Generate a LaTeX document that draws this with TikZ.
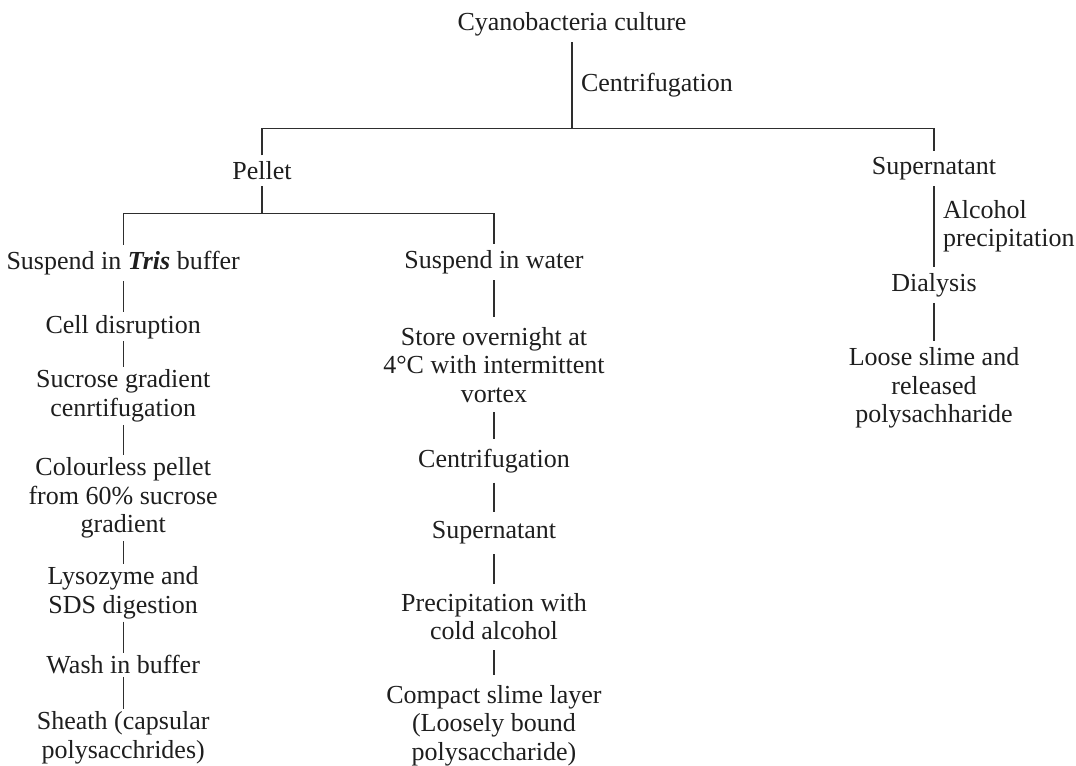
\documentclass[tikz,border=0pt]{standalone}
\usepackage{fontspec}
\setmainfont{Liberation Serif}
\usepackage{xcolor}
\usepackage{tikz}
\definecolor{inkDark}{HTML}{1e1e1e}
\definecolor{lineGrey}{HTML}{2e2e2e}

\begin{document}
\begin{tikzpicture}[
  font=\fontsize{18.5}{20.3}\selectfont,
  every node/.style={align=center},
  stage/.style={inner sep=0.15cm, text=inkDark},
  capstage/.style={stage, inner ysep=0.06cm},
  loosestage/.style={stage, inner ysep=0.24cm},
  note/.style={inner sep=0.1cm, anchor=west, align=left, text=inkDark},
  link/.style={line width=0.9pt, draw=lineGrey}
]
\useasboundingbox (0,0) rectangle (26.9,-19.15);

% first split
\node[stage] (culture) at (14.30,-0.60) {Cyanobacteria culture};
\coordinate (split) at (14.30,-3.22);
\node[note] (cfglabel) at (14.42,-2.12) {Centrifugation};
\node[stage] (pellet) at (6.55,-4.27) {Pellet};
\node[stage] (supnat) at (23.35,-4.22) {Supernatant};

\draw[link] (culture.south) -- (split);
\draw[link] (pellet.north) |- (split) -| (supnat.north);

% pellet branch
\coordinate (split2) at (6.55,-5.33);
\node[stage] (tris)  at (3.08,-6.58) {Suspend in \textbf{\textit{Tris}} buffer};
\node[stage] (water) at (12.35,-6.56) {Suspend in water};

\draw[link] (pellet.south) -- (split2);
\draw[link] (tris.north) |- (split2) -| (water.north);

% capsular route
\node[capstage] (disrupt) at (3.08,-8.17)  {Cell disruption};
\node[capstage] (sucrose) at (3.08,-9.90)  {Sucrose gradient\\cenrtifugation};
\node[capstage] (colless) at (3.08,-12.45) {Colourless pellet\\from 60\% sucrose\\gradient};
\node[capstage] (lyso)    at (3.08,-14.82) {Lysozyme and\\SDS digestion};
\node[capstage] (wash)    at (3.08,-16.62) {Wash in buffer};
\node[capstage] (sheath)  at (3.08,-18.45) {Sheath (capsular\\polysacchrides)};

\draw[link] (tris.south)    -- (disrupt.north);
\draw[link] (disrupt.south) -- (sucrose.north);
\draw[link] (sucrose.south) -- (colless.north);
\draw[link] (colless.south) -- (lyso.north);
\draw[link] (lyso.south)    -- (wash.north);
\draw[link] (wash.south)    -- (sheath.north);

% loosely bound route
\node[loosestage] (store)   at (12.35,-9.12)  {Store overnight at\\4°C with intermittent\\vortex};
\node[loosestage] (cfg)     at (12.35,-11.52) {Centrifugation};
\node[loosestage] (supnat2) at (12.35,-13.32) {Supernatant};
\node[loosestage] (precip)  at (12.35,-15.42) {Precipitation with\\cold alcohol};
\node[loosestage] (compact) at (12.35,-18.14) {Compact slime layer\\(Loosely bound\\polysaccharide)};

\draw[link] (water.south)   -- (store.north);
\draw[link] (store.south)   -- (cfg.north);
\draw[link] (cfg.south)     -- (supnat2.north);
\draw[link] (supnat2.south) -- (precip.north);
\draw[link] (precip.south)  -- (compact.north);

% released route
\node[stage] (dialysis) at (23.35,-7.12) {Dialysis};
\node[note] (alclabel) at (23.47,-5.66) {Alcohol\\precipitation};
\node[stage] (loose)    at (23.35,-9.70) {Loose slime and\\released\\polysachharide};

\draw[link] (supnat.south)   -- (dialysis.north);
\draw[link] (dialysis.south) -- (loose.north);

\end{tikzpicture}
\end{document}
